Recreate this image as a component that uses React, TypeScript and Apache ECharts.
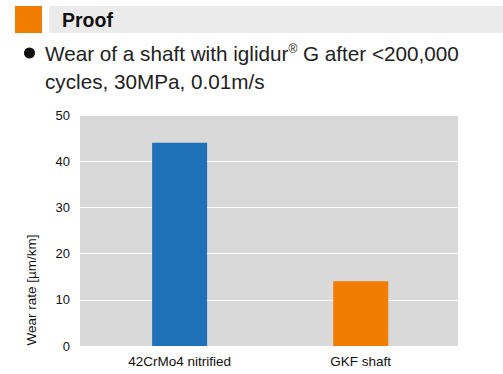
import React, { useEffect, useRef } from "react";
import * as echarts from "echarts";

const categories = ["42CrMo4 nitrified", "GKF shaft"];
const wearRates = [44, 14];
const barColors = ["#1f71b8", "#f07d00"];
const yTicks = { min: 0, max: 50, interval: 10 };
const headerTitle = "Proof";
const bulletLine1 = "Wear of a shaft with iglidur{s|®} G after <200,000";
const bulletLine2 = "cycles, 30MPa, 0.01m/s";
const yAxisName = "Wear rate [µm/km]";

const FONT = "'Liberation Sans', Arial, Helvetica, sans-serif";

export default function App() {
  const ref = useRef<HTMLDivElement>(null);
  useEffect(() => {
    document.body.style.margin = "0";
    if (!ref.current) return;
    const chart = echarts.init(ref.current, undefined, { renderer: "svg" });
    chart.setOption({
      animation: false,
      backgroundColor: "#ffffff",
      textStyle: { fontFamily: FONT },
      grid: {
        left: 80,
        right: 45,
        top: 115,
        bottom: 28,
        show: true,
        backgroundColor: "#d9d9d9",
        borderWidth: 0,
      },
      xAxis: {
        type: "value",
        min: -0.55,
        max: 1.537,
        axisLine: { show: false },
        axisTick: { show: false },
        splitLine: { show: false },
        axisLabel: {
          customValues: categories.map((_, i) => i),
          formatter: (v: number) => categories[Math.round(v)] ?? "",
          fontSize: 13.5,
          color: "#111",
          fontFamily: FONT,
          margin: 8,
        },
      },
      yAxis: {
        type: "value",
        min: yTicks.min,
        max: yTicks.max,
        interval: yTicks.interval,
        axisLine: { show: false },
        axisTick: { show: false },
        splitLine: { lineStyle: { color: "#ffffff", width: 1 } },
        axisLabel: { fontSize: 13, color: "#111", fontFamily: FONT, margin: 10 },
      },
      series: [
        {
          type: "bar",
          barWidth: 55,
          data: wearRates.map((v, i) => ({
            value: [i, v],
            itemStyle: { color: barColors[i] },
          })),
        },
      ],
      graphic: [
        { type: "rect", shape: { x: 15, y: 6, width: 27, height: 27 }, style: { fill: "#f07d00" } },
        { type: "rect", shape: { x: 49, y: 6, width: 454, height: 27 }, style: { fill: "#ebebeb" } },
        {
          type: "text",
          x: 62,
          y: 20,
          style: {
            text: headerTitle,
            fontSize: 19.5,
            fontWeight: "bold",
            fill: "#111",
            fontFamily: FONT,
            verticalAlign: "middle",
          },
        },
        { type: "circle", shape: { cx: 29.5, cy: 53, r: 5.5 }, style: { fill: "#111" } },
        {
          type: "text",
          x: 45,
          y: 53,
          style: {
            text: bulletLine1,
            fontSize: 20.7,
            fill: "#222",
            fontFamily: FONT,
            verticalAlign: "middle",
            rich: {
              s: { fontSize: 12, fill: "#222", fontFamily: FONT, padding: [0, 0, 9, 0] },
            },
          },
        },
        {
          type: "text",
          x: 45,
          y: 81,
          style: {
            text: bulletLine2,
            fontSize: 20.7,
            fill: "#222",
            fontFamily: FONT,
            verticalAlign: "middle",
          },
        },
        {
          type: "text",
          x: 31,
          y: 290,
          rotation: Math.PI / 2,
          style: {
            text: yAxisName,
            fontSize: 13.5,
            fill: "#111",
            fontFamily: FONT,
            align: "center",
            verticalAlign: "middle",
          },
        },
      ],
    });
    return () => chart.dispose();
  }, []);
  return <div ref={ref} style={{ width: 503, height: 374 }} />;
}
